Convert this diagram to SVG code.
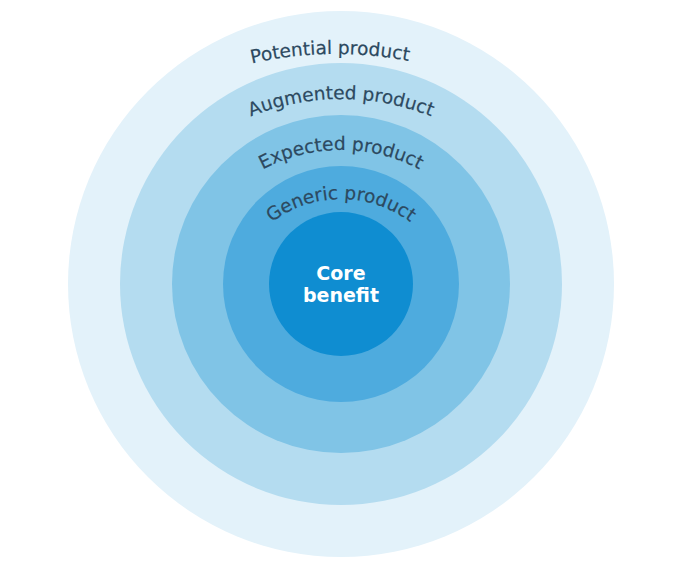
<svg xmlns="http://www.w3.org/2000/svg" width="680" height="566" viewBox="0 0 680 566">
  <style>
    .lbl { font-family: "DejaVu Sans", Verdana, sans-serif; font-size: 18.5px; fill: #2c4960; stroke: #2c4960; stroke-width: 0.2px; }
    .core { font-family: "DejaVu Sans", Verdana, sans-serif; font-size: 19px; font-weight: bold; fill: #ffffff; text-anchor: middle; }
  </style>
  <defs>
    <path id="arcPotential" d="M -44 434 A 380 380 0 0 1 716 434"/>
    <path id="arcAugmented" d="M 99 341 A 242 242 0 0 1 583 341"/>
    <path id="arcExpected" d="M 173 318 A 168 168 0 0 1 509 318"/>
    <path id="arcGeneric" d="M 226 314 A 115 115 0 0 1 456 314"/>
  </defs>
  <rect width="680" height="566" fill="#ffffff"/>
  <g id="potential">
    <circle cx="341" cy="284" r="273" fill="#e3f2fa"/>
  </g>
  <g id="augmented">
    <circle cx="341" cy="284" r="221" fill="#b4dcf0"/>
  </g>
  <g id="expected">
    <circle cx="341" cy="284" r="169" fill="#80c4e6"/>
  </g>
  <g id="generic">
    <circle cx="341" cy="284" r="118" fill="#4eabde"/>
  </g>
  <g id="core">
    <circle cx="341" cy="284" r="72" fill="#0f8dd1"/>
    <text class="core" x="341" y="280">Core</text>
    <text class="core" x="341" y="302">benefit</text>
  </g>
  <g id="labels">
    <text class="lbl"><textPath href="#arcPotential" startOffset="49.5%" text-anchor="middle">Potential product</textPath></text>
    <text class="lbl"><textPath href="#arcAugmented" startOffset="50%" text-anchor="middle">Augmented product</textPath></text>
    <text class="lbl"><textPath href="#arcExpected" startOffset="50%" text-anchor="middle">Expected product</textPath></text>
    <text class="lbl"><textPath href="#arcGeneric" startOffset="50%" text-anchor="middle">Generic product</textPath></text>
  </g>
</svg>
